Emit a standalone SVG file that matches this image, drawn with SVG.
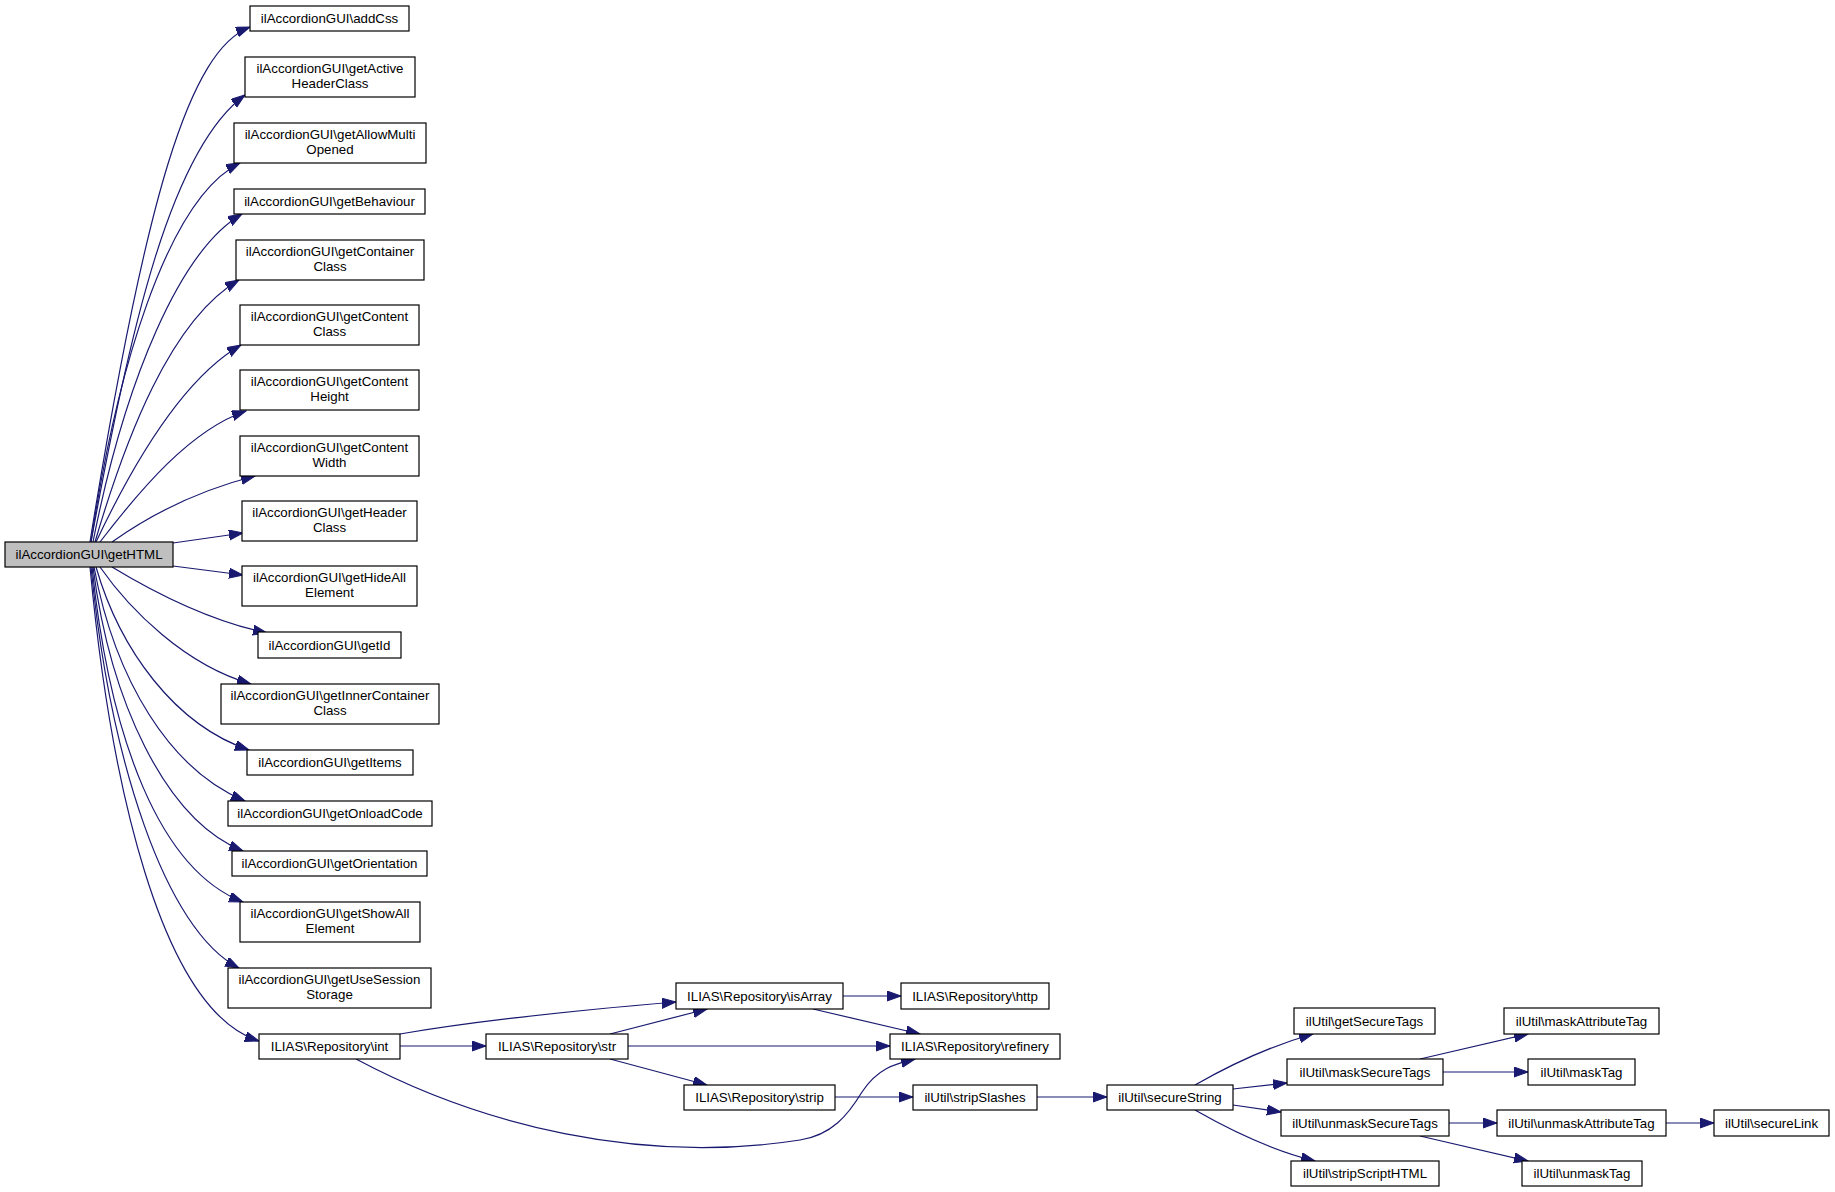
<svg xmlns="http://www.w3.org/2000/svg" width="1835" height="1192" viewBox="0 0 1835 1192">
<style>
.n rect{fill:#ffffff;stroke:#000000;stroke-width:1.2}
.n.root rect{fill:#bfbfbf}
text{font-family:"Liberation Sans",Arial,Helvetica,sans-serif;font-size:13.3px;text-anchor:middle;fill:#000000}
.e path{fill:none;stroke:#191970;stroke-width:1.2;marker-end:url(#ah)}
</style>
<defs>
<marker id="ah" markerUnits="userSpaceOnUse" markerWidth="15" markerHeight="11" refX="14" refY="5" orient="auto">
<path d="M0,0 L14,5 L0,10 Z" fill="#191970" stroke="#191970" stroke-width="1"/>
</marker>
</defs>
<rect x="0" y="0" width="1835" height="1192" fill="#ffffff"/>

<g id="edges" class="e">
<path d="M90,542 C146,193 190,50 250,27"/>
<path d="M91,542 C130,330 170,150 245,95"/>
<path d="M91,542 C115,380 165,200 240,163"/>
<path d="M93,542 C125,380 180,250 242,214"/>
<path d="M95,542 C125,440 170,320 239,280"/>
<path d="M96,542 C130,470 180,380 241,345"/>
<path d="M100,542 C140,490 190,430 246,411"/>
<path d="M112,542 C150,515 200,490 255,476"/>
<path d="M173,543 L243,533"/>
<path d="M173,566 L243,575"/>
<path d="M112,567 C150,590 205,620 267,633"/>
<path d="M100,567 C130,610 185,665 251,684"/>
<path d="M96,567 C120,650 175,725 249,750"/>
<path d="M94,567 C115,680 170,770 245,801"/>
<path d="M93,567 C110,700 165,820 243,851"/>
<path d="M92,567 C110,740 160,870 243,902"/>
<path d="M91,567 C110,760 165,930 239,968"/>
<path d="M90,567 C110,780 160,1010 259,1041"/>
<path d="M400,1034 C470,1022 580,1010 676,1002"/>
<path d="M400,1046 L486,1046"/>
<path d="M356,1059 C480,1125 640,1165 800,1140 C832,1135 848,1115 862,1092 C878,1068 895,1064 915,1059"/>
<path d="M610,1034 L707,1009"/>
<path d="M628,1046 L890,1046"/>
<path d="M610,1059 L707,1085"/>
<path d="M843,996 L901,996"/>
<path d="M813,1009 L920,1034"/>
<path d="M835,1097 L913,1097"/>
<path d="M1037,1097 L1107,1097"/>
<path d="M1195,1085 C1230,1065 1270,1046 1313,1034"/>
<path d="M1233,1089 L1287,1083"/>
<path d="M1233,1105 L1281,1112"/>
<path d="M1195,1110 C1230,1130 1270,1150 1315,1161"/>
<path d="M1420,1059 L1528,1034"/>
<path d="M1443,1072 L1528,1072"/>
<path d="M1449,1123 L1497,1123"/>
<path d="M1420,1136 L1528,1161"/>
<path d="M1666,1123 L1714,1123"/>
</g>

<g id="getHTML" class="n root"><rect x="5" y="542" width="168" height="25"/><text x="89" y="559">ilAccordionGUI\getHTML</text></g>
<g id="addCss" class="n"><rect x="250" y="6" width="159" height="25"/><text x="329.5" y="23">ilAccordionGUI\addCss</text></g>
<g id="getActiveHeaderClass" class="n"><rect x="245" y="57" width="170" height="40"/><text x="330" y="73">ilAccordionGUI\getActive</text><text x="330" y="88">HeaderClass</text></g>
<g id="getAllowMultiOpened" class="n"><rect x="234" y="123" width="192" height="40"/><text x="330" y="139">ilAccordionGUI\getAllowMulti</text><text x="330" y="154">Opened</text></g>
<g id="getBehaviour" class="n"><rect x="234" y="189" width="191" height="25"/><text x="329.5" y="206">ilAccordionGUI\getBehaviour</text></g>
<g id="getContainerClass" class="n"><rect x="236" y="240" width="188" height="40"/><text x="330" y="256">ilAccordionGUI\getContainer</text><text x="330" y="271">Class</text></g>
<g id="getContentClass" class="n"><rect x="240" y="305" width="179" height="40"/><text x="329.5" y="321">ilAccordionGUI\getContent</text><text x="329.5" y="336">Class</text></g>
<g id="getContentHeight" class="n"><rect x="240" y="370" width="179" height="40"/><text x="329.5" y="386">ilAccordionGUI\getContent</text><text x="329.5" y="401">Height</text></g>
<g id="getContentWidth" class="n"><rect x="240" y="436" width="179" height="40"/><text x="329.5" y="452">ilAccordionGUI\getContent</text><text x="329.5" y="467">Width</text></g>
<g id="getHeaderClass" class="n"><rect x="242" y="501" width="175" height="40"/><text x="329.5" y="517">ilAccordionGUI\getHeader</text><text x="329.5" y="532">Class</text></g>
<g id="getHideAllElement" class="n"><rect x="242" y="566" width="175" height="40"/><text x="329.5" y="582">ilAccordionGUI\getHideAll</text><text x="329.5" y="597">Element</text></g>
<g id="getId" class="n"><rect x="258" y="632" width="143" height="26"/><text x="329.5" y="650">ilAccordionGUI\getId</text></g>
<g id="getInnerContainerClass" class="n"><rect x="221" y="684" width="218" height="40"/><text x="330" y="700">ilAccordionGUI\getInnerContainer</text><text x="330" y="715">Class</text></g>
<g id="getItems" class="n"><rect x="247" y="750" width="166" height="25"/><text x="330" y="767">ilAccordionGUI\getItems</text></g>
<g id="getOnloadCode" class="n"><rect x="228" y="801" width="204" height="25"/><text x="330" y="818">ilAccordionGUI\getOnloadCode</text></g>
<g id="getOrientation" class="n"><rect x="232" y="851" width="195" height="25"/><text x="329.5" y="868">ilAccordionGUI\getOrientation</text></g>
<g id="getShowAllElement" class="n"><rect x="240" y="902" width="180" height="40"/><text x="330" y="918">ilAccordionGUI\getShowAll</text><text x="330" y="933">Element</text></g>
<g id="getUseSessionStorage" class="n"><rect x="228" y="968" width="203" height="40"/><text x="329.5" y="984">ilAccordionGUI\getUseSession</text><text x="329.5" y="999">Storage</text></g>
<g id="int" class="n"><rect x="259" y="1034" width="141" height="25"/><text x="329.5" y="1051">ILIAS\Repository\int</text></g>
<g id="str" class="n"><rect x="486" y="1034" width="142" height="25"/><text x="557" y="1051">ILIAS\Repository\str</text></g>
<g id="isArray" class="n"><rect x="676" y="983" width="167" height="26"/><text x="759.5" y="1001">ILIAS\Repository\isArray</text></g>
<g id="strip" class="n"><rect x="684" y="1085" width="151" height="25"/><text x="759.5" y="1102">ILIAS\Repository\strip</text></g>
<g id="http" class="n"><rect x="901" y="983" width="148" height="26"/><text x="975" y="1001">ILIAS\Repository\http</text></g>
<g id="refinery" class="n"><rect x="890" y="1034" width="170" height="25"/><text x="975" y="1051">ILIAS\Repository\refinery</text></g>
<g id="stripSlashes" class="n"><rect x="913" y="1085" width="124" height="25"/><text x="975" y="1102">ilUtil\stripSlashes</text></g>
<g id="secureString" class="n"><rect x="1107" y="1085" width="126" height="25"/><text x="1170" y="1102">ilUtil\secureString</text></g>
<g id="getSecureTags" class="n"><rect x="1294" y="1008" width="141" height="26"/><text x="1364.5" y="1026">ilUtil\getSecureTags</text></g>
<g id="maskSecureTags" class="n"><rect x="1287" y="1059" width="156" height="26"/><text x="1365" y="1077">ilUtil\maskSecureTags</text></g>
<g id="unmaskSecureTags" class="n"><rect x="1281" y="1110" width="168" height="26"/><text x="1365" y="1128">ilUtil\unmaskSecureTags</text></g>
<g id="stripScriptHTML" class="n"><rect x="1291" y="1161" width="148" height="25"/><text x="1365" y="1178">ilUtil\stripScriptHTML</text></g>
<g id="maskAttributeTag" class="n"><rect x="1504" y="1008" width="155" height="26"/><text x="1581.5" y="1026">ilUtil\maskAttributeTag</text></g>
<g id="maskTag" class="n"><rect x="1528" y="1059" width="107" height="26"/><text x="1581.5" y="1077">ilUtil\maskTag</text></g>
<g id="unmaskAttributeTag" class="n"><rect x="1497" y="1110" width="169" height="26"/><text x="1581.5" y="1128">ilUtil\unmaskAttributeTag</text></g>
<g id="secureLink" class="n"><rect x="1714" y="1110" width="115" height="26"/><text x="1771.5" y="1128">ilUtil\secureLink</text></g>
<g id="unmaskTag" class="n"><rect x="1522" y="1161" width="120" height="25"/><text x="1582" y="1178">ilUtil\unmaskTag</text></g>
</svg>
